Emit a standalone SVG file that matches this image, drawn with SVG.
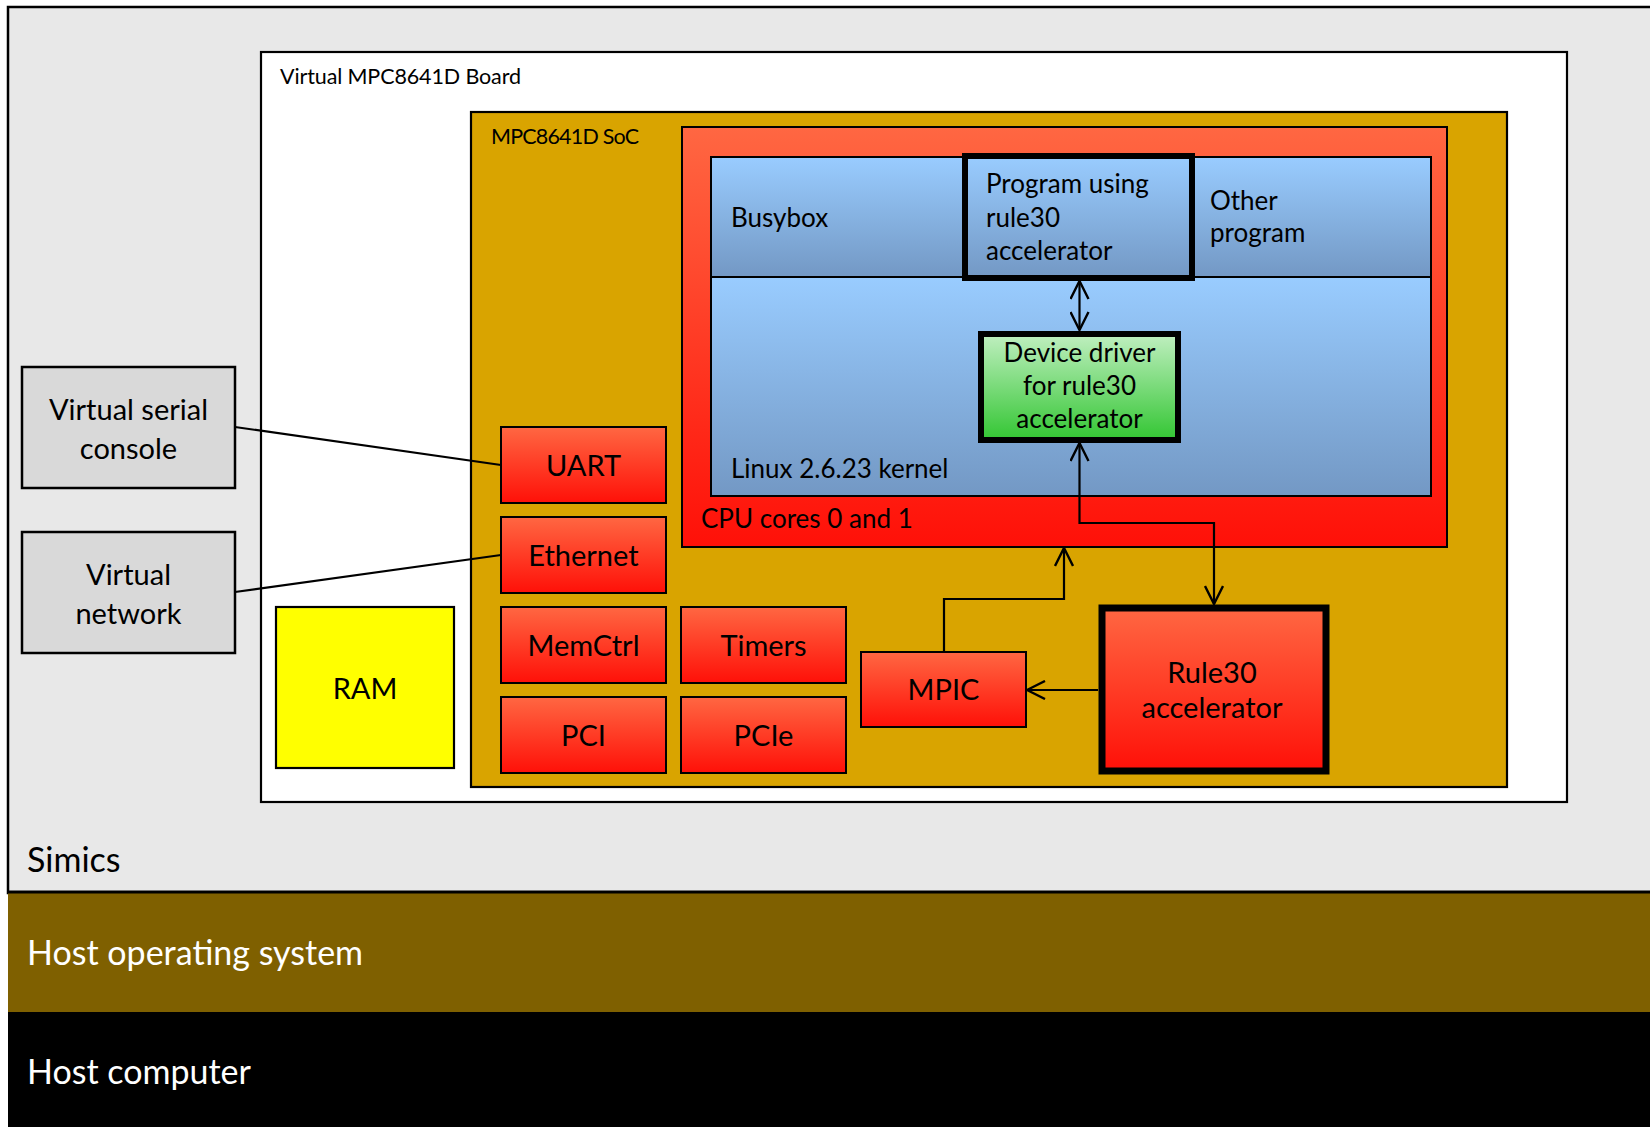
<svg xmlns="http://www.w3.org/2000/svg" width="1650" height="1127" viewBox="0 0 1650 1127">
<style>
text{font-family:Lato,"Liberation Sans",sans-serif;fill:#000}
.lbl{font-size:21.5px}
.box{font-size:29px;text-anchor:middle}
.in{font-size:26px}
.host{font-size:34px}
.red{fill:url(#gRed);stroke:#000;stroke-width:2}
.gray{fill:#D9D9D9;stroke:#000;stroke-width:2.5}
.blue{fill:url(#gBlue);stroke:#000;stroke-width:2}
.con{fill:none;stroke:#000;stroke-width:2.2}
</style>
<defs>
<linearGradient id="gRed" x1="0" y1="0" x2="0" y2="1"><stop offset="0" stop-color="#FF6742"/><stop offset="1" stop-color="#FF1008"/></linearGradient>
<linearGradient id="gBlue" x1="0" y1="0" x2="0" y2="1"><stop offset="0" stop-color="#99CCFF"/><stop offset="1" stop-color="#7398C4"/></linearGradient>
<linearGradient id="gGreen" x1="0" y1="0" x2="0" y2="1"><stop offset="0" stop-color="#C0EFC0"/><stop offset="1" stop-color="#33C633"/></linearGradient>
<marker id="arr" viewBox="0 0 20 20" refX="19" refY="10" markerWidth="20" markerHeight="20" markerUnits="userSpaceOnUse" orient="auto-start-reverse"><path d="M1,1 L19,10 L1,19" fill="none" stroke="#000" stroke-width="2.4"/></marker>
</defs>
<g id="simics"><rect x="8" y="7" width="1700" height="886" fill="#E8E8E8" stroke="#000" stroke-width="2.5"/><text class="host" x="27" y="872">Simics</text></g>
<g id="hostos"><rect x="8" y="892" width="1700" height="120" fill="#7F6000"/><line x1="8" y1="892" x2="1650" y2="892" stroke="#000" stroke-width="3"/><text class="host" x="27" y="965" style="fill:#fff">Host operating system</text></g>
<g id="hostcomputer"><rect x="8" y="1012" width="1700" height="120" fill="#000"/><text class="host" x="27" y="1084" style="fill:#fff">Host computer</text></g>
<g id="board"><rect x="261" y="52" width="1306" height="750" fill="#fff" stroke="#000" stroke-width="2.2"/><text class="lbl" x="280" y="84" textLength="241">Virtual MPC8641D Board</text></g>
<g id="soc"><rect x="471" y="112" width="1036" height="675" fill="#D9A400" stroke="#000" stroke-width="2.2"/><text class="lbl" x="491" y="144" textLength="148">MPC8641D SoC</text></g>
<g id="cpu"><rect x="682" y="127" width="765" height="420" class="red"/><text class="in" x="701" y="528">CPU cores 0 and 1</text></g>
<g id="apps"><rect x="711" y="157" width="720" height="120" class="blue"/><text class="in" x="731" y="227">Busybox</text><text class="in" x="1210" y="210">Other</text><text class="in" x="1210" y="242">program</text></g>
<g id="kernel"><rect x="711" y="277" width="720" height="219" class="blue"/><text class="in" x="731" y="478">Linux 2.6.23 kernel</text></g>
<g id="program"><rect x="965" y="156" width="227" height="122" fill="url(#gBlue)" stroke="#000" stroke-width="6"/><text class="in" x="986" y="193">Program using</text><text class="in" x="986" y="227">rule30</text><text class="in" x="986" y="260">accelerator</text></g>
<g id="driver"><rect x="981" y="334" width="197" height="106" fill="url(#gGreen)" stroke="#000" stroke-width="6"/><text class="in" x="1079.5" y="362" text-anchor="middle">Device driver</text><text class="in" x="1079.5" y="395" text-anchor="middle">for rule30</text><text class="in" x="1079.5" y="428" text-anchor="middle">accelerator</text></g>
<g id="console"><rect x="22" y="367" width="213" height="121" class="gray"/><text class="box" x="128.5" y="420">Virtual serial</text><text class="box" x="128.5" y="459">console</text></g>
<g id="network"><rect x="22" y="532" width="213" height="121" class="gray"/><text class="box" x="128.5" y="585">Virtual</text><text class="box" x="128.5" y="624">network</text></g>
<g id="ram"><rect x="276" y="607" width="178" height="161" fill="#FFFF00" stroke="#000" stroke-width="2.2"/><text class="box" x="365" y="699">RAM</text></g>
<g id="uart"><rect x="501" y="427" width="165" height="76" class="red"/><text class="box" x="583.5" y="476">UART</text></g>
<g id="ethernet"><rect x="501" y="517" width="165" height="76" class="red"/><text class="box" x="583.5" y="566">Ethernet</text></g>
<g id="memctrl"><rect x="501" y="607" width="165" height="76" class="red"/><text class="box" x="583.5" y="656">MemCtrl</text></g>
<g id="pci"><rect x="501" y="697" width="165" height="76" class="red"/><text class="box" x="583.5" y="746">PCI</text></g>
<g id="timers"><rect x="681" y="607" width="165" height="76" class="red"/><text class="box" x="763.5" y="656">Timers</text></g>
<g id="pcie"><rect x="681" y="697" width="165" height="76" class="red"/><text class="box" x="763.5" y="746">PCIe</text></g>
<g id="mpic"><rect x="861" y="652" width="165" height="75" class="red"/><text class="box" x="943.5" y="700">MPIC</text></g>
<g id="accel"><rect x="1102" y="608" width="224" height="163" fill="url(#gRed)" stroke="#000" stroke-width="7"/><text class="box" x="1212" y="683">Rule30</text><text class="box" x="1212" y="718">accelerator</text></g>
<g id="connectors">
<line class="con" x1="235" y1="427" x2="501" y2="465"/>
<line class="con" x1="235" y1="592" x2="501" y2="555"/>
<line class="con" x1="1079.5" y1="281" x2="1079.5" y2="330" marker-start="url(#arr)" marker-end="url(#arr)"/>
<polyline class="con" points="1079.5,443 1079.5,523 1214,523 1214,604" marker-start="url(#arr)" marker-end="url(#arr)"/>
<polyline class="con" points="944,652 944,599 1064,599 1064,548" marker-end="url(#arr)"/>
<line class="con" x1="1098" y1="690" x2="1027" y2="690" marker-end="url(#arr)"/>
</g>
</svg>
